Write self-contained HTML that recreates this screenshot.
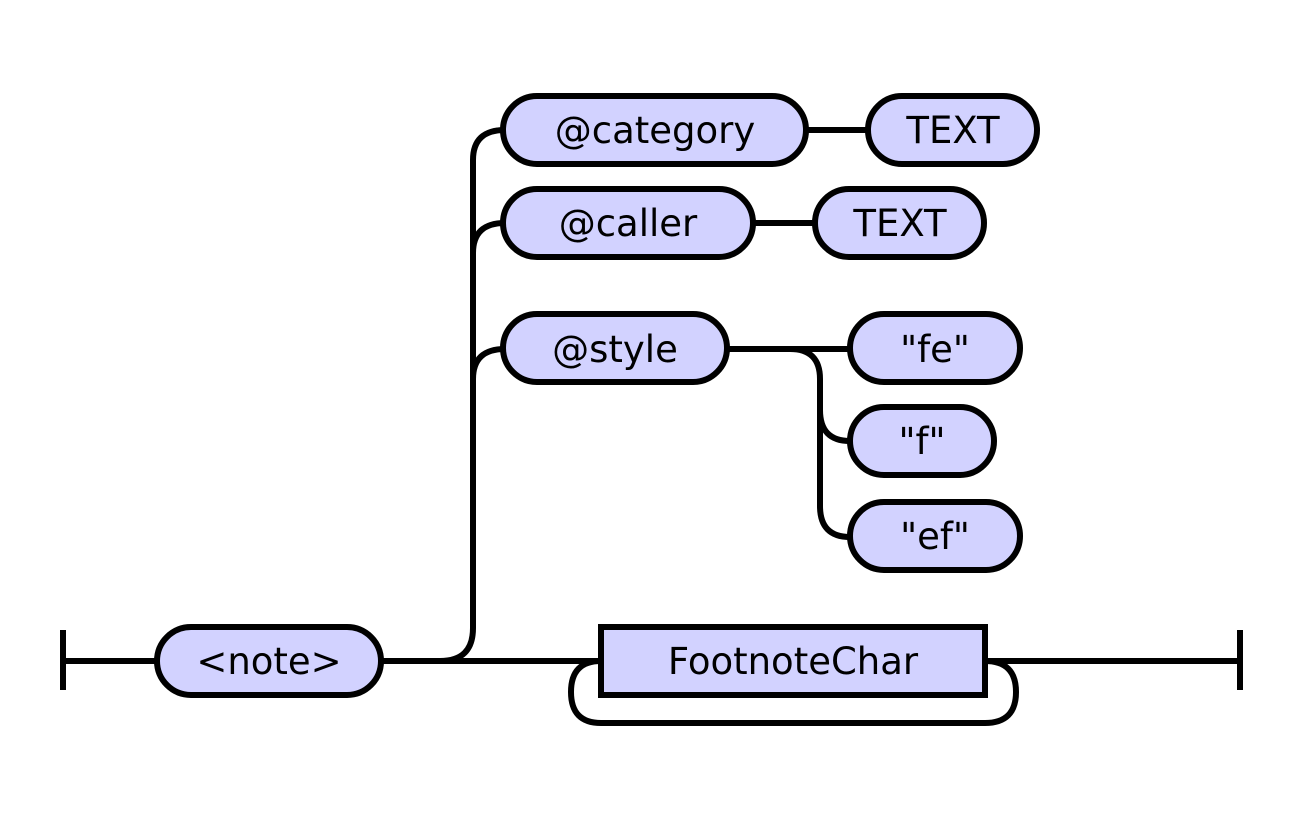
<!DOCTYPE html>
<html><head><style>html,body{margin:0;padding:0;background:#fff}svg{display:block}</style></head><body>
<svg width="1300" height="816" viewBox="0 0 1300 816" xmlns="http://www.w3.org/2000/svg">
<g fill="none" stroke="#000" stroke-width="6">
<path d="M63 630V690M63 661H157"/>
<path d="M381 661H601M440 661Q473 661 473 628V160Q473 130 505 130M473 253Q473 223 505 223M473 379Q473 349 505 349"/>
<path d="M806 130H868M753 223H815M727 349H850M790 349Q820 349 820 379V410Q820 441 850 441M820 410V506Q820 537 850 537"/>
<path d="M985 661H1240M1240 630V690M601 661Q571 661 571 692Q571 723 601 723H985Q1016 723 1016 692Q1016 661 985 661"/>
</g>
<g fill="#d2d2ff" stroke="#000" stroke-width="6">
<rect x="157" y="627" width="224" height="68" rx="34"/>
<rect x="503" y="96" width="303" height="68" rx="34"/>
<rect x="868" y="96" width="169" height="68" rx="34"/>
<rect x="503" y="189" width="250" height="68" rx="34"/>
<rect x="815" y="189" width="169" height="68" rx="34"/>
<rect x="503" y="314" width="224" height="68" rx="34"/>
<rect x="850" y="314" width="170" height="68" rx="34"/>
<rect x="850" y="407" width="144" height="68" rx="34"/>
<rect x="850" y="502" width="170" height="68" rx="34"/>
<rect x="601" y="627" width="384" height="68"/>
</g>
<g font-family="DejaVu Sans, Liberation Sans, sans-serif" font-size="37" text-anchor="middle" fill="#000">
<text x="269" y="674">&lt;note&gt;</text>
<text x="655" y="143">@category</text>
<text x="953" y="143">TEXT</text>
<text x="628" y="236">@caller</text>
<text x="900" y="236">TEXT</text>
<text x="615" y="362">@style</text>
<text x="935" y="362">"fe"</text>
<text x="922" y="454">"f"</text>
<text x="935" y="549">"ef"</text>
<text x="793" y="674">FootnoteChar</text>
</g>
</svg>
</body></html>
